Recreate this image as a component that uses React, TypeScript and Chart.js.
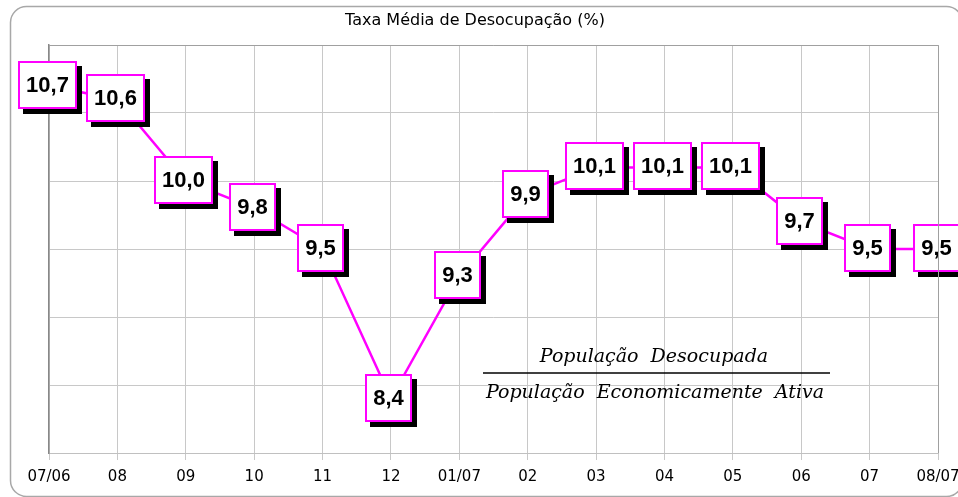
import React, { useEffect, useRef } from "react";
import { Chart, registerables } from "chart.js";

Chart.register(...registerables);

const categories = ["07/06", "08", "09", "10", "11", "12", "01/07", "02", "03", "04", "05", "06", "07", "08/07"];
const taxaValues = [10.7, 10.6, 10.0, 9.8, 9.5, 8.4, 9.3, 9.9, 10.1, 10.1, 10.1, 9.7, 9.5, 9.5];
const titleText = "Taxa Média de Desocupação (%)";
const numeratorText = "População  Desocupada";
const denominatorText = "População  Economicamente  Ativa";

const W = 958;
const H = 497;

const decorPlugin = {
  id: "decor",
  beforeDraw(chart: any) {
    const ctx = chart.ctx;
    ctx.save();
    ctx.fillStyle = "#ffffff";
    ctx.fillRect(0, 0, W, H);
    // outer rounded frame
    ctx.strokeStyle = "#a8a8a8";
    ctx.lineWidth = 1.5;
    ctx.beginPath();
    ctx.roundRect(10.5, 6.5, 952, 490, 16);
    ctx.stroke();
    // title
    ctx.fillStyle = "#000";
    ctx.font = "16px 'DejaVu Sans'";
    ctx.textAlign = "center";
    ctx.textBaseline = "middle";
    ctx.fillText(titleText, 475, 21);
    ctx.restore();
  },
  afterDraw(chart: any) {
    const ctx = chart.ctx;
    const a = chart.chartArea;
    ctx.save();
    ctx.strokeStyle = "#a0a0a0";
    ctx.lineWidth = 1;
    ctx.beginPath();
    ctx.moveTo(a.left, a.top + 0.5);
    ctx.lineTo(a.right + 0.5, a.top + 0.5);
    ctx.lineTo(a.right + 0.5, a.bottom);
    ctx.stroke();
    ctx.restore();
  },
  afterDatasetsDraw(chart: any) {
    const ctx = chart.ctx;
    const meta = chart.getDatasetMeta(0);
    ctx.save();
    // formula
    ctx.fillStyle = "#000";
    ctx.font = "italic 19px 'DejaVu Serif'";
    ctx.textAlign = "center";
    ctx.textBaseline = "alphabetic";
    ctx.fillText(numeratorText, 654, 362);
    ctx.fillText(denominatorText, 655, 398);
    ctx.strokeStyle = "#000";
    ctx.lineWidth = 1.5;
    ctx.beginPath();
    ctx.moveTo(483, 373);
    ctx.lineTo(830, 373);
    ctx.stroke();

    // value boxes
    ctx.font = "bold 22px 'Liberation Sans'";
    meta.data.forEach((pt: any, i: number) => {
      const label = taxaValues[i].toFixed(1).replace(".", ",");
      const tw = ctx.measureText(label).width;
      const bw = Math.round(tw + 16);
      const bh = 48;
      const cx = pt.x - 2;
      const cy = pt.y - 1;
      const x0 = Math.round(cx - bw / 2);
      const y0 = Math.round(cy - bh / 2);
      ctx.fillStyle = "#000";
      ctx.fillRect(x0 + 5, y0 + 5, bw, bh);
      ctx.fillStyle = "#fff";
      ctx.fillRect(x0, y0, bw, bh);
      ctx.strokeStyle = "#ff00ff";
      ctx.lineWidth = 2;
      ctx.strokeRect(x0 + 1, y0 + 1, bw - 2, bh - 2);
      ctx.fillStyle = "#000";
      ctx.textAlign = "center";
      ctx.textBaseline = "middle";
      ctx.fillText(label, x0 + bw / 2, y0 + bh / 2 + 1);
    });
    ctx.restore();
  },
};

export default function App() {
  const ref = useRef<HTMLCanvasElement>(null);
  useEffect(() => {
    if (!ref.current) return;
    const chart = new Chart(ref.current, {
      type: "line",
      data: {
        labels: categories,
        datasets: [
          {
            data: taxaValues,
            borderColor: "#ff00ff",
            borderWidth: 2.5,
            pointRadius: 0,
            tension: 0,
            fill: false,
          },
        ],
      },
      options: {
        responsive: false,
        animation: false,
        layout: { padding: { top: 45, right: 20, left: 0, bottom: 0 } },
        plugins: {
          legend: { display: false },
          title: { display: false },
          tooltip: { enabled: false },
        },
        scales: {
          x: {
            offset: false,
            afterFit: (s: any) => {
              s.height = 44;
              s.paddingLeft = 0;
              s.paddingRight = 0;
            },
            grid: {
              color: "#c8c8c8",
              lineWidth: 1,
              tickLength: 7,
              drawTicks: true,
            },
            border: { display: true, color: "#c0c0c0", width: 1 },
            ticks: {
              color: "#000",
              font: { family: "'DejaVu Sans'", size: 15 },
              padding: 8,
              maxRotation: 0,
              autoSkip: false,
            },
          },
          y: {
            min: 8,
            max: 11,
            afterFit: (s: any) => {
              s.width = 49;
              s.paddingTop = 0;
              s.paddingBottom = 0;
            },
            ticks: { display: false, stepSize: 0.5 },
            grid: { color: "#c8c8c8", lineWidth: 1, drawTicks: false },
            border: { display: true, color: "#888888", width: 1.5 },
          },
        },
      },
      plugins: [decorPlugin],
    });
    return () => chart.destroy();
  }, []);
  return (
    <div style={{ position: "absolute", left: 0, top: 0, width: W, height: H }}>
      <canvas ref={ref} width={W} height={H} style={{ display: "block", width: W, height: H }} />
    </div>
  );
}
